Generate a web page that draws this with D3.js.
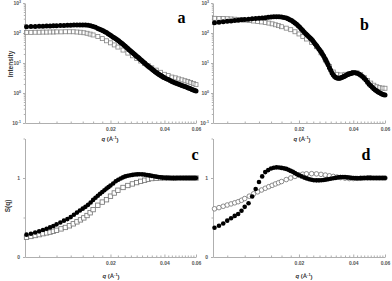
<!DOCTYPE html>
<html><head><meta charset="utf-8">
<script src="https://cdn.jsdelivr.net/npm/d3@7"></script>
<style>body{margin:0;background:#fff}svg{display:block}</style>
</head><body><svg id="chart" width="392" height="281"></svg>
<script>
// q grids (Å^-1)
const qFitI = [0.0068,0.0072,0.0076,0.0080,0.0084,0.0088,0.0092,0.0096,0.0100,
  0.0105,0.0110,0.0115,0.0120,0.0125,0.0130,0.0135,0.0140,0.0145,0.0150,0.0155,0.0160,0.0165,0.0170,
  0.0174,0.0178,0.0182,0.0186,0.0190,0.0194,0.0198,0.0202,0.0206,0.0210,0.0214,0.0218,0.0222,0.0226,0.0230,
  0.0234,0.0238,0.0242,0.0246,0.0250,0.0254,0.0258,0.0262,0.0266,0.0270,0.0274,0.0278,0.0282,0.0286,0.0290,
  0.0295,0.0300,0.0305,0.0310,0.0315,0.0320,0.0325,0.0330,0.0335,0.0340,0.0345,0.0350,0.0355,0.0360,0.0365,
  0.0370,0.0375,0.0380,0.0385,0.0390,0.0395,0.0400,
  0.041,0.042,0.043,0.044,0.045,0.046,0.047,0.048,0.049,0.050,
  0.051,0.052,0.053,0.054,0.055,0.056,0.057,0.058,0.059,0.060];
const qFitS = [0.0068,0.0072,0.0076,0.0080,0.0084,0.0088,0.0092,0.0096,0.0100,
  0.0105,0.0110,0.0115,0.0120,0.0125,0.0130,0.0135,0.0140,0.0145,0.0150,0.0155,0.0160,0.0165,0.0170,0.0175,0.0180,0.0185,0.0190,0.0195,0.0200,
  0.0207,0.0214,0.0221,0.0228,0.0235,0.0242,
  0.0250,0.0258,0.0266,0.0274,0.0282,0.0290,
  0.030,0.031,0.032,0.033,0.034,0.035,0.036,0.037,0.038,0.039,0.040,
  0.041,0.042,0.043,0.044,0.045,0.046,0.047,0.048,0.049,0.050,
  0.051,0.052,0.053,0.054,0.055,0.056,0.057,0.058,0.059,0.060];
const qData = [0.0068,0.0072,0.0076,0.0080,0.0084,0.0088,0.0092,0.0096,0.0100,
  0.0106,0.0112,0.0118,0.0124,0.0130,0.0136,0.0142,0.0148,0.0154,0.0160,
  0.0170,0.0180,0.0190,0.0200,0.0210,0.0220,
  0.0235,0.0250,0.0265,0.0280,0.0295,0.0310,0.0325,0.0340,
  0.036,0.038,0.040,0.042,0.044,0.046,0.048,0.050,0.052,0.054,0.056,0.058,0.060];

// panel a: intensity
const intFitA = [162,164,166,167,169,170,171,173,175,
  177,179,181,182,184,185,186,186,185,181,175,164,154,142,
  134,127,119,111,103,95,88,81,74,69,64,59,55,50,46,
  43,39,36,33,30.4,27.9,25.7,23.7,21.9,20.3,18.8,17.5,16.3,15.2,14.1,
  12.9,11.8,10.8,9.93,9.16,8.49,7.85,7.28,6.76,6.31,5.86,5.47,5.13,4.83,4.55,
  4.32,4.09,3.89,3.69,3.52,3.37,3.24,
  3.0,2.8,2.6,2.44,2.29,2.17,2.07,1.97,1.87,1.79,
  1.71,1.64,1.58,1.51,1.45,1.38,1.32,1.27,1.22,1.16];
const intDataA = [105,105,106,106,107,107,108,108,109,
  109,110,110,110,108,106,102,98,92,86,
  76,65,55,47,40,34,
  27,21.4,17.4,14.1,11.6,9.7,8.1,6.9,
  5.8,4.9,4.2,3.8,3.4,3.2,2.95,2.75,2.57,2.4,2.24,2.09,1.9];
// panel b: intensity
const intFitB = [221,229,237,245,253,261,268,275,282,
  290,296,303,309,316,325,334,340,345,348,349,343,331,314,
  299,279,259,237,217,195,174,155,135,120,106,95,85.5,76.7,69.2,
  62.8,55.8,49.2,43.4,38,33.5,29.5,25.9,22.9,19.7,17,14.5,12.3,10.4,8.7,
  7.0,5.69,4.68,3.98,3.55,3.31,3.18,3.10,3.11,3.16,3.26,3.39,3.55,3.72,3.89,
  4.07,4.2,4.32,4.45,4.57,4.65,4.72,
  4.74,4.57,4.27,3.9,3.55,3.1,2.7,2.3,1.97,1.74,
  1.55,1.38,1.26,1.16,1.08,1.01,0.955,0.91,0.88,0.86];
const intDataB = [309,305,302,299,294,288,282,275,269,
  260,251,243,234,224,214,202,188,176,162,
  145,129,110,93,76,63,
  48,35,21.9,12.6,7.6,5.0,4.2,4.0,
  4.2,4.5,4.8,4.7,4.1,3.3,2.6,2.14,1.82,1.62,1.51,1.46,1.44];
// panel c: S(q)
const sFitC = [0.283,0.295,0.31,0.325,0.341,0.358,0.375,0.393,0.413,
  0.437,0.46,0.48,0.505,0.535,0.562,0.588,0.612,0.635,0.66,0.69,0.723,0.75,0.775,0.80,0.823,0.845,0.868,0.885,0.905,
  0.93,0.958,0.978,0.993,1.008,1.02,
  1.028,1.035,1.04,1.044,1.046,1.047,
  1.046,1.043,1.038,1.033,1.027,1.022,1.017,1.012,1.008,1.005,1.003,
  1.002,1.001,1.0,0.999,0.999,0.999,1.0,1.0,1.0,1.0,
  1.0,1.0,1.0,1.0,1.0,1.0,1.0,1.0,1.0,1.0];
const sDataC = [0.25,0.26,0.272,0.283,0.295,0.305,0.315,0.326,0.338,
  0.356,0.374,0.395,0.42,0.445,0.47,0.495,0.525,0.56,0.60,
  0.655,0.695,0.725,0.77,0.81,0.845,
  0.88,0.905,0.925,0.942,0.958,0.972,0.985,0.993,
  0.998,1.0,1.0,1.0,1.0,0.999,1.0,1.0,1.0,1.0,1.0,1.0,1.0];
// panel d: S(q)
const sFitD = [0.37,0.395,0.425,0.46,0.49,0.52,0.545,0.585,0.635,
  0.68,0.765,0.86,0.95,1.02,1.075,1.10,1.12,1.13,1.135,1.133,1.128,1.122,1.115,1.103,1.09,1.078,1.062,1.048,1.035,
  1.02,1.005,0.995,0.985,0.978,0.972,
  0.97,0.97,0.972,0.975,0.98,0.985,
  0.99,0.996,1.002,1.008,1.011,1.012,1.011,1.008,1.005,1.002,1.0,
  0.998,0.997,0.997,0.998,0.999,1.0,1.0,1.001,1.001,1.001,
  1.0,1.0,1.0,1.0,1.0,1.0,1.0,1.0,1.0,1.0];
const sDataD = [0.61,0.625,0.642,0.658,0.672,0.686,0.70,0.718,0.74,
  0.77,0.80,0.825,0.848,0.87,0.89,0.907,0.925,0.94,0.955,
  0.98,1.0,1.02,1.04,1.048,1.053,
  1.055,1.052,1.046,1.037,1.028,1.02,1.012,1.005,
  0.998,0.993,0.993,0.995,0.998,1.0,1.0,1.0,1.0,1.0,1.0,1.0,1.0];

// ticks
const xTicks = [0.02, 0.04, 0.06];
const xTickLabels = ["0.02", "0.04", "0.06"];
const xMinorTicks = [0.008,0.010,0.012,0.014,0.016,0.018,0.022,0.024,0.026,0.028,0.030,0.032,0.034,0.036,0.038,0.042,0.044,0.046,0.048,0.050,0.052,0.054,0.056,0.058];
const logTicks = [0.1, 1, 10, 100, 1000];
const logTickExp = ["-1", "0", "1", "2", "3"];
const sTicks = [0, 1];
const sTickLabels = ["0", "1"];
const sMinorTicks = [0.5, 1.5];

const svg = d3.select("#chart");
const FONT = "'Liberation Sans', Arial, sans-serif";

const panels = [
  {letter:"a", x0:25, x1:196, yt:3, yb:123, log:true, qFit:qFitI, fit:intFitA, data:intDataA, sym:"sqA", r:2.5,
   lx:181.5, ly:23, ylab:"Intensity", ylx:13, yly:64, qx:110, qy:141},
  {letter:"b", x0:213, x1:385, yt:3, yb:123, log:true, qFit:qFitI, fit:intFitB, data:intDataB, sym:"sqA", r:2.5,
   lx:364.5, ly:30, ylab:null, qx:302, qy:141},
  {letter:"c", x0:25, x1:196, yt:138.5, yb:257, log:false, qFit:qFitS, fit:sFitC, data:sDataC, sym:"sqC", r:2.3,
   lx:195, ly:160, ylab:"S(q)", ylx:10, yly:206, qx:111, qy:278},
  {letter:"d", x0:213, x1:385, yt:138.5, yb:257, log:false, qFit:qFitS, fit:sFitD, data:sDataD, sym:"circ", r:2.3,
   lx:366, ly:160, ylab:null, qx:304, qy:278}
];

panels.forEach(p => {
  const x = d3.scaleLog().domain([0.00667, 0.06]).range([p.x0, p.x1]);
  const y = p.log ? d3.scaleLog().domain([0.1, 1000]).range([p.yb, p.yt])
                  : d3.scaleLinear().domain([0, 1.5]).range([p.yb, p.yt]);
  const g = svg.append("g");

  // x axis
  g.append("g").attr("transform", `translate(0,${p.yb})`)
    .call(d3.axisBottom(x).tickValues(xTicks).tickFormat((d,i)=>xTickLabels[i])
      .tickSize(-2.5).tickSizeOuter(0).tickPadding(4));
  g.append("g").attr("transform", `translate(0,${p.yb})`)
    .call(d3.axisBottom(x).tickValues(xMinorTicks).tickFormat("").tickSize(-1.5).tickSizeOuter(0))
    .call(s => s.select(".domain").remove());

  // y axis
  if (p.log) {
    const gy = g.append("g").attr("transform", `translate(${p.x0},0)`)
      .call(d3.axisLeft(y).tickValues(logTicks).tickSize(2).tickSizeOuter(0).tickPadding(2).tickFormat(""));
    gy.selectAll(".tick text").each(function(d, i) {
      const t = d3.select(this);
      t.text("10");
      t.append("tspan").attr("dy", "-0.45em").attr("font-size", "3.6px").text(logTickExp[i]);
    });
    const minor = [];
    logTicks.slice(0, -1).forEach(b => { for (let m = 2; m <= 9; m++) minor.push(b * m); });
    g.append("g").attr("transform", `translate(${p.x0},0)`)
      .call(d3.axisLeft(y).tickValues(minor).tickFormat("").tickSize(1.2).tickSizeOuter(0))
      .call(s => s.select(".domain").remove());
  } else {
    g.append("g").attr("transform", `translate(${p.x0},0)`)
      .call(d3.axisLeft(y).tickValues(sTicks).tickFormat((d,i)=>sTickLabels[i])
        .tickSize(2).tickSizeOuter(0).tickPadding(3));
    g.append("g").attr("transform", `translate(${p.x0},0)`)
      .call(d3.axisLeft(y).tickValues(sMinorTicks).tickFormat("").tickSize(1.5).tickSizeOuter(0))
      .call(s => s.select(".domain").remove());
  }

  g.selectAll(".domain, .tick line").attr("stroke", "#9a9a9a").attr("stroke-width", 0.8);
  g.selectAll(".tick text").attr("font-family", FONT).attr("font-size", "5px")
    .attr("font-weight", "bold").attr("fill", "#555");

  // data (open symbols)
  const dataPts = d3.zip(qData, p.data);
  if (p.sym === "sqA") {
    g.append("g").selectAll("rect").data(dataPts).join("rect")
      .attr("x", d => x(d[0]) - 2).attr("y", d => y(d[1]) - 2)
      .attr("width", 4).attr("height", 4)
      .attr("fill", "#fff").attr("fill-opacity", 0.5)
      .attr("stroke", "#858585").attr("stroke-width", 0.8);
  } else if (p.sym === "sqC") {
    g.append("g").selectAll("rect").data(dataPts).join("rect")
      .attr("x", d => x(d[0]) - 2.2).attr("y", d => y(d[1]) - 2.2)
      .attr("width", 4.4).attr("height", 4.4)
      .attr("fill", "#fff").attr("stroke", "#707070").attr("stroke-width", 0.8);
  } else {
    g.append("g").selectAll("circle").data(dataPts).join("circle")
      .attr("cx", d => x(d[0])).attr("cy", d => y(d[1])).attr("r", 2.3)
      .attr("fill", "#fff").attr("stroke", "#707070").attr("stroke-width", 0.8);
  }

  // fit (filled black circles)
  g.append("g").selectAll("circle").data(d3.zip(p.qFit, p.fit)).join("circle")
    .attr("cx", d => x(d[0])).attr("cy", d => y(d[1])).attr("r", p.r)
    .attr("fill", "#000");

  // panel letter
  g.append("text").attr("x", p.lx).attr("y", p.ly).attr("text-anchor", "middle")
    .attr("font-family", "'Liberation Serif', 'Times New Roman', serif")
    .attr("font-weight", "bold").attr("font-size", "16px").text(p.letter);

  // x label
  const xl = g.append("text").attr("x", p.qx).attr("y", p.qy).attr("text-anchor", "middle")
    .attr("font-family", FONT).attr("font-weight", "bold").attr("font-size", "6px").attr("fill", "#333");
  xl.append("tspan").attr("font-style", "italic").text("q");
  xl.append("tspan").text(" (Å");
  xl.append("tspan").attr("dy", "-0.45em").attr("font-size", "4px").text("-1");
  xl.append("tspan").attr("dy", "0.45em").text(")");

  // y label
  if (p.ylab) {
    g.append("text").attr("transform", `translate(${p.ylx},${p.yly}) rotate(-90)`)
      .attr("text-anchor", "middle").attr("font-family", FONT).attr("font-weight", "bold")
      .attr("font-size", "6.5px").attr("fill", "#333").text(p.ylab);
  }
});
</script>
</body></html>
